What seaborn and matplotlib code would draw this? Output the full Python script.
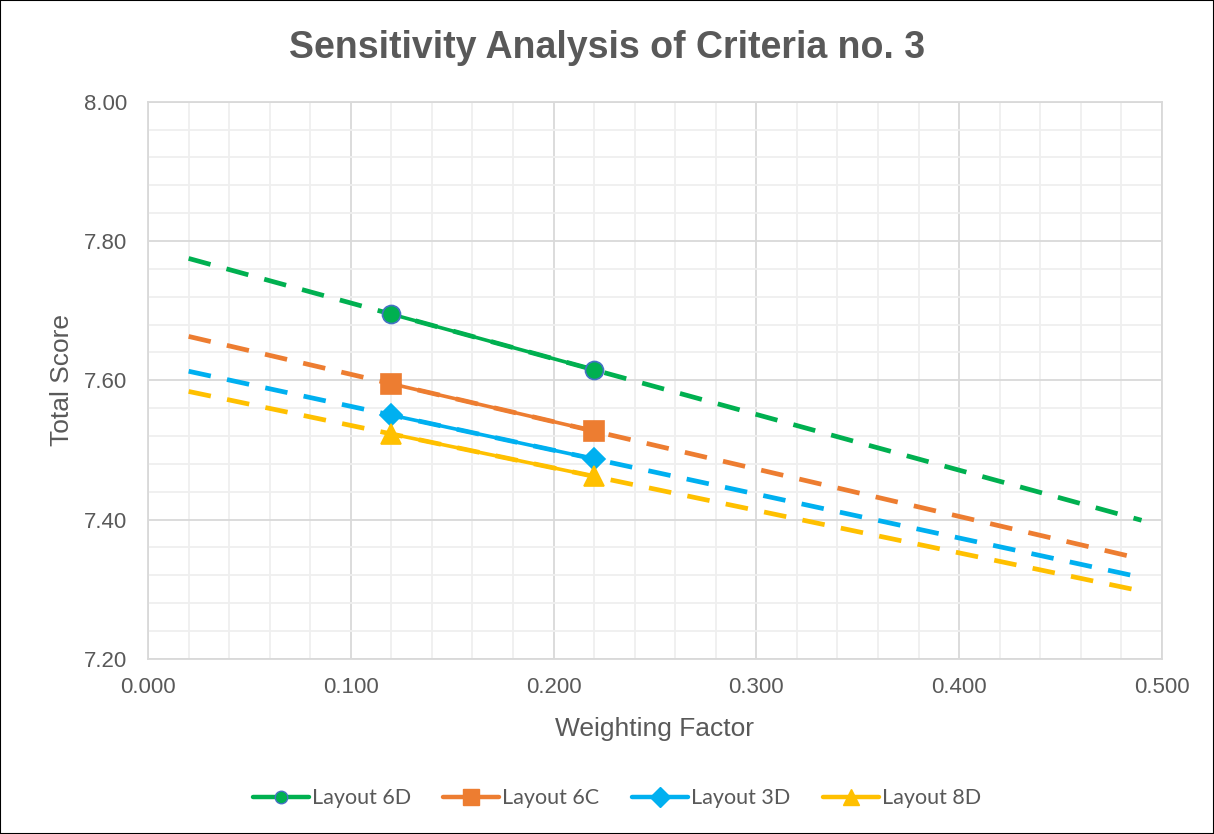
import numpy as np
import pandas as pd
import matplotlib
matplotlib.use("Agg")
import matplotlib.pyplot as plt
import seaborn as sns
from matplotlib.ticker import MultipleLocator, FormatStrFormatter
from matplotlib.lines import Line2D
from matplotlib.patches import Rectangle

# ---- data ----
layouts = ["Layout 6D", "Layout 6C", "Layout 3D", "Layout 8D"]
weights = [0.12, 0.22]
score_6d = [7.695, 7.615]
score_6c = [7.595, 7.527]
score_3d = [7.550, 7.487]
score_8d = [7.523, 7.462]
trend_range = [0.02, 0.49]
x_ticks = [0.0, 0.1, 0.2, 0.3, 0.4, 0.5]
y_ticks = [7.20, 7.40, 7.60, 7.80, 8.00]

colors = ["#00B050", "#ED7D31", "#00B0F0", "#FFC000"]
markers = ["o", "s", "D", "^"]
msizes = [13, 14, 11, 14]
leg_msizes = [9, 12, 10, 12]
medges = ["#4472C4", "#ED7D31", "#00B0F0", "#FFC000"]

series = [score_6d, score_6c, score_3d, score_8d]
df = pd.DataFrame({
    "Layout": np.repeat(layouts, len(weights)),
    "Weight": np.tile(weights, len(layouts)),
    "Score": np.concatenate(series),
})

sns.set_theme(style="white")
plt.rcParams["font.family"] = ["Liberation Sans", "DejaVu Sans"]

fig = plt.figure(figsize=(12.14, 8.34), dpi=100)
ax = fig.add_axes([0.122, 0.210, 0.835, 0.668])

grey = "#595959"

# trendlines (dashed) fitted from the data
tx = np.array(trend_range)
for s, c in zip(series, colors):
    k, b = np.polyfit(weights, s, 1)
    ax.plot(tx, k * tx + b, color=c, lw=3.4, ls=(0, (4.8, 3.5)), zorder=3,
            solid_capstyle="butt", dash_capstyle="butt")

sns.lineplot(data=df, x="Weight", y="Score", hue="Layout", hue_order=layouts,
             palette=colors, ax=ax, legend=False, lw=2.6, zorder=4)

for lay, c, m, ms, me in zip(layouts, colors, markers, msizes, medges):
    sub = df[df["Layout"] == lay]
    ax.plot(sub["Weight"], sub["Score"], ls="none", marker=m, ms=ms,
            mfc=c, mec=me, mew=1.2, zorder=5)

ax.set_xlim(0, 0.5)
ax.set_ylim(7.2, 8.0)
ax.set_xticks(x_ticks)
ax.set_yticks(y_ticks)
ax.xaxis.set_major_formatter(FormatStrFormatter("%.3f"))
ax.yaxis.set_major_formatter(FormatStrFormatter("%.2f"))
ax.xaxis.set_minor_locator(MultipleLocator(0.02))
ax.yaxis.set_minor_locator(MultipleLocator(0.04))
ax.grid(which="major", color="#D9D9D9", lw=1.3, zorder=0)
ax.grid(which="minor", color="#EFEFEF", lw=1.3, zorder=0)
ax.set_axisbelow(True)
for sp in ax.spines.values():
    sp.set_color("#D9D9D9")
    sp.set_linewidth(1.3)
ax.tick_params(axis="both", which="both", length=0, labelsize=16, colors=grey)
ax.tick_params(axis="y", pad=15)
ax.tick_params(axis="x", pad=13)

ax.set_xlabel("Weighting Factor", fontsize=19, color=grey, labelpad=14)
ax.set_ylabel("Total Score", fontsize=19, color=grey, labelpad=7)

fig.text(0.5, 0.942, "Sensitivity Analysis of Criteria no. 3", ha="center",
         va="center", fontsize=27, fontweight="bold", color=grey)

handles = [Line2D([0], [0], color=c, lw=3.2, marker=m, ms=ms, mfc=c, mec=me)
           for c, m, ms, me in zip(colors, markers, leg_msizes, medges)]
leg = fig.legend(handles, layouts, loc="center", bbox_to_anchor=(0.508, 0.043),
                 ncol=4, frameon=False, handlelength=2.6,
                 handletextpad=0.15, columnspacing=1.5,
                 prop={"family": ["Lato", "DejaVu Sans"], "size": 15.5})
for t in leg.get_texts():
    t.set_color(grey)

fig.patches.append(Rectangle((0, 0), 1, 1, transform=fig.transFigure,
                             fill=False, edgecolor="#000000", lw=1.5))

fig.savefig("out.png", dpi=100)
